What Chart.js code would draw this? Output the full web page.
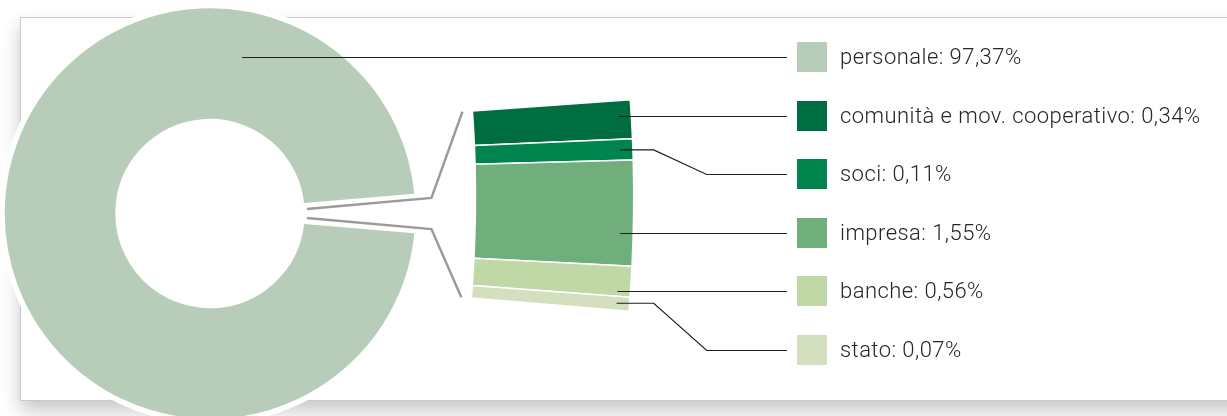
<!DOCTYPE html>
<html>
<head>
<meta charset="utf-8">
<script src="https://cdn.jsdelivr.net/npm/chart.js@4.4.0/dist/chart.umd.min.js"></script>
<style>
  html, body { margin: 0; padding: 0; background: #fff; overflow: hidden; }
  #wrap { position: relative; width: 1227px; height: 416px; overflow: hidden; background: #fff; }
  .card { position: absolute; left: 20px; top: 17px; width: 1300px; height: 382px;
          border: 1px solid #c9c9c9; background: #fff; box-shadow: 0 10px 18px rgba(0,0,0,.22); }
  canvas { position: absolute; left: 0; top: 0; }
  #legend { position: absolute; left: 797px; top: 42px; margin: 0; padding: 0; list-style: none;
            font-family: Roboto, "Noto Sans", sans-serif; font-weight: 300; font-size: 22px;
            letter-spacing: 0.45px; color: #262626; }
  #legend li { height: 58.6px; display: flex; align-items: flex-start; white-space: nowrap; }
  #legend .box { width: 30px; height: 30px; flex: none; margin-right: 13px; }
  #legend .txt { line-height: 30px; }
</style>
</head>
<body>
<div id="wrap">
  <div class="card"></div>
  <canvas id="detailCanvas" width="1227" height="416"></canvas>
  <canvas id="ringCanvas" width="1227" height="416"></canvas>
  <ul id="legend"></ul>
</div>
<script>
// voci e percentuali come nelle etichette
const labels = ['personale', 'comunità e mov. cooperativo', 'soci', 'impresa', 'banche', 'stato'];
const shares = [97.37, 0.34, 0.11, 1.55, 0.56, 0.07];
const colors = ['#b7cdb9', '#006d41', '#00844e', '#70af7b', '#c0d7a6', '#d3dfbe'];
// ampiezza delle fette nel settore ingrandito (letta dal grafico, non proporzionale)
const detailSizes = [18.5, 10, 50.2, 14.6, 6.7];

const fmt = v => v.toFixed(2).replace('.', ',') + '%';

// legenda html
const legendEl = document.getElementById('legend');
labels.forEach((l, i) => {
  const li = document.createElement('li');
  li.innerHTML = '<span class="box" style="background:' + colors[i] + '"></span><span class="txt">' + l + ': ' + fmt(shares[i]) + '</span>';
  legendEl.appendChild(li);
});

const noUi = { legend: { display: false }, tooltip: { enabled: false } };

// settore ingrandito: arco di una ciambella molto grande, centro fuori schermo
const detail = new Chart(document.getElementById('detailCanvas'), {
  type: 'doughnut',
  data: {
    labels: labels.slice(1),
    datasets: [{ data: detailSizes, backgroundColor: colors.slice(1), borderColor: '#fff', borderWidth: 1.5 }]
  },
  options: {
    responsive: false, animation: false, events: [],
    radius: 1364, cutout: '88.4%', rotation: 85.9, circumference: 8.9,
    layout: { padding: { left: 471, right: 1227 - 634, top: 99, bottom: 416 - 312 } },
    plugins: noUi
  }
});

// linee di collegamento e di richiamo
const leaders = {
  id: 'leaders',
  afterDraw(chart) {
    const ctx = chart.ctx;
    const ring = chart.getDatasetMeta(0).data;
    const pers = ring[0], gap = ring[1];
    const det = detail.getDatasetMeta(0).data;
    const pt = (el, r, a) => [el.x + r * Math.cos(a), el.y + r * Math.sin(a)];

    ctx.save();
    // connettori grigi dallo spicchio mancante al settore
    const mid = (gap.startAngle + gap.endAngle) / 2, half = (gap.endAngle - gap.startAngle) / 2;
    ctx.strokeStyle = '#9b9b9b';
    ctx.lineWidth = 2.5;
    ctx.lineJoin = 'miter';
    [[-1, det[0], det[0].startAngle], [1, det[det.length - 1], det[det.length - 1].endAngle]].forEach(([s, el, a]) => {
      const p0 = pt(gap, gap.innerRadius + 5, mid + s * half * 0.55);
      const p1 = pt(gap, gap.outerRadius + 14, mid + s * half * 0.85);
      const p2 = pt(el, el.innerRadius - 10, a);
      ctx.beginPath();
      ctx.moveTo(p0[0], p0[1]); ctx.lineTo(p1[0], p1[1]); ctx.lineTo(p2[0], p2[1]);
      ctx.stroke();
    });

    // richiami neri verso la legenda
    const wrapRc = document.getElementById('wrap').getBoundingClientRect();
    const boxes = legendEl.querySelectorAll('.box');
    ctx.strokeStyle = '#1e1e1e';
    ctx.lineWidth = 1.2;
    boxes.forEach((b, i) => {
      const rc = b.getBoundingClientRect();
      const ly = Math.round(rc.top - wrapRc.top + rc.height / 2) + 0.5;
      const lx = rc.left - wrapRc.left - 10;
      ctx.beginPath();
      if (i === 0) {
        const r = pers.innerRadius + 0.58 * (pers.outerRadius - pers.innerRadius);
        const dy = ly - pers.y;
        const x = pers.x + Math.sqrt(Math.max(r * r - dy * dy, 0));
        ctx.moveTo(x, ly); ctx.lineTo(lx, ly);
      } else {
        const el = det[i - 1];
        const ra = el.outerRadius - 13;
        const yA = el.y + ra * Math.sin(el.startAngle), yB = el.y + ra * Math.sin(el.endAngle);
        if (ly > yA + 2 && ly < yB - 2) {
          const dy = ly - el.y;
          ctx.moveTo(el.x + Math.sqrt(ra * ra - dy * dy), ly); ctx.lineTo(lx, ly);
        } else {
          const p = pt(el, ra, (el.startAngle + el.endAngle) / 2);
          const bx1 = el.x + el.outerRadius + 20, bx2 = bx1 + 53;
          ctx.moveTo(p[0], p[1]); ctx.lineTo(bx1, p[1]); ctx.lineTo(bx2, ly); ctx.lineTo(lx, ly);
        }
      }
      ctx.stroke();
    });
    ctx.restore();
  }
};

const restShare = shares.slice(1).reduce((a, b) => a + b, 0);

new Chart(document.getElementById('ringCanvas'), {
  type: 'doughnut',
  data: {
    labels: ['personale', 'altro'],
    datasets: [{
      data: [shares[0], restShare],
      backgroundColor: [colors[0], 'rgba(0,0,0,0)'],
      borderColor: ['#fff', 'rgba(0,0,0,0)'],
      borderWidth: [5.5, 0]
    }]
  },
  options: {
    responsive: false, animation: false, events: [],
    radius: 208, cutout: '44.2%', rotation: 90 + restShare * 3.6 / 2,
    layout: { padding: { left: 0, right: 807, top: 11, bottom: 0 } },
    plugins: noUi
  },
  plugins: [leaders]
});
</script>
</body>
</html>
